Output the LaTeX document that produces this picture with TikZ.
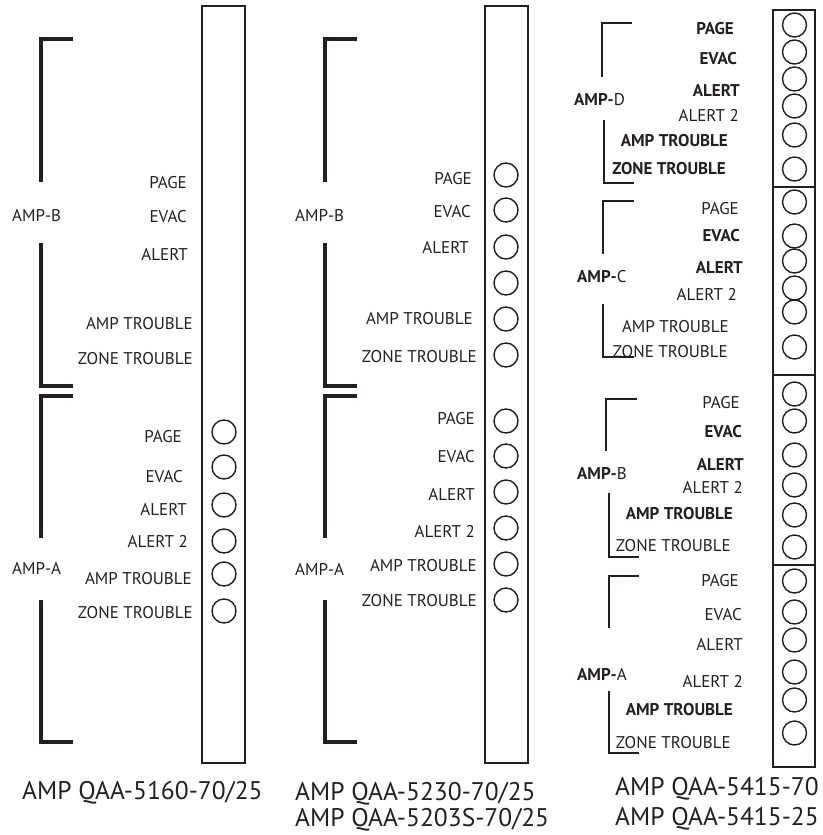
\documentclass[tikz,border=0pt]{standalone}
\usepackage{fontspec}
\setmainfont{PT Sans}
\definecolor{ink}{RGB}{35,31,32}
\begin{document}
\begin{tikzpicture}[x=1pt,y=-1pt,
  lbl/.style={inner sep=0pt, anchor=east, font=\fontsize{17}{17}\selectfont, text=ink},
  lblb/.style={inner sep=0pt, anchor=east, font=\fontsize{17}{17}\selectfont\bfseries, text=ink},
  amp/.style={inner sep=0pt, anchor=west, font=\fontsize{17}{17}\selectfont, text=ink},
  led/.style={circle, draw=ink, line width=1.4pt, minimum size=24pt, inner sep=0pt},
  thickbr/.style={draw=ink, line width=4pt, line join=miter},
  thinbr/.style={draw=ink, line width=2.4pt, line join=miter},
  panel/.style={draw=ink, line width=1.6pt},
  capt/.style={inner sep=0pt, anchor=base west, font=\fontsize{25.5}{25.5}\selectfont, text=ink}
]
\useasboundingbox (0,0) rectangle (822,835);

% ================= LEFT PANEL: QAA-5160 =================
\draw[panel] (202,6) rectangle (245,763);
\draw[thickbr] (73,39) -| (41,182);
\draw[thickbr] (41,243) |- (73,386);
\draw[thickbr] (73,396) -| (41,538);
\draw[thickbr] (41,600) |- (73,742);
\node[amp] (L-ampB) at (12,216) {AMP-B};
\node[amp] (L-ampA) at (12,568) {AMP-A};
\node[lbl] (L-b1) at (187,183) {PAGE};
\node[lbl] (L-b2) at (187,217) {EVAC};
\node[lbl] (L-b3) at (188,254) {ALERT};
\node[lbl] (L-b5) at (193,324) {AMP TROUBLE};
\node[lbl] (L-b6) at (193,359) {ZONE TROUBLE};
\node[lbl] (L-a1) at (182,437) {PAGE};
\node[lbl] (L-a2) at (183,477) {EVAC};
\node[lbl] (L-a3) at (187,509) {ALERT};
\node[lbl] (L-a4) at (188,541) {ALERT 2};
\node[lbl] (L-a5) at (192,579) {AMP TROUBLE};
\node[lbl] (L-a6) at (193,613) {ZONE TROUBLE};
\foreach \y [count=\i] in {432,467,505,541,574,611}
  \node[led] (L-led\i) at (224,\y) {};
\node[capt] (L-cap) at (22,799) {AMP QAA-5160-70/25};

% ================= MIDDLE PANEL: QAA-5230 =================
\draw[panel] (485,6) rectangle (528,763);
\draw[thickbr] (357,39) -| (325,182);
\draw[thickbr] (325,243) |- (357,386);
\draw[thickbr] (357,396) -| (325,538);
\draw[thickbr] (325,600) |- (357,742);
\node[amp] (M-ampB) at (295,216) {AMP-B};
\node[amp] (M-ampA) at (295,569) {AMP-A};
\node[lbl] (M-b1) at (472,179) {PAGE};
\node[lbl] (M-b2) at (471,212) {EVAC};
\node[lbl] (M-b3) at (469,247) {ALERT};
\node[lbl] (M-b5) at (473,319) {AMP TROUBLE};
\node[lbl] (M-b6) at (477,357) {ZONE TROUBLE};
\node[lbl] (M-a1) at (475,419) {PAGE};
\node[lbl] (M-a2) at (475,457) {EVAC};
\node[lbl] (M-a3) at (475,494) {ALERT};
\node[lbl] (M-a4) at (475,531) {ALERT 2};
\node[lbl] (M-a5) at (477,566) {AMP TROUBLE};
\node[lbl] (M-a6) at (477,601) {ZONE TROUBLE};
\foreach \y [count=\i] in {175,210,247,283,319,355}
  \node[led] (M-ledB\i) at (506,\y) {};
\foreach \y [count=\i] in {421,456,492,528,564,600}
  \node[led] (M-ledA\i) at (506,\y) {};
\node[capt] (M-cap1) at (295,800) {AMP QAA-5230-70/25};
\node[capt] (M-cap2) at (295,826) {AMP QAA-5203S-70/25};

% ================= RIGHT PANEL: QAA-5415 =================
\draw[panel] (773,10) rectangle (815,767);
\draw[panel] (773,187) -- (815,187);
\draw[panel] (773,375) -- (815,375);
\draw[panel] (773,565) -- (815,565);
% brackets
\draw[thinbr] (632,23) -| (602,77);
\draw[thinbr] (604,120) |- (634,183);
\draw[thinbr] (634,201) -| (603,254);
\draw[thinbr] (603,304) |- (634,357);
\draw[thinbr] (637,399) -| (606,451);
\draw[thinbr] (609,493) |- (639,557);
\draw[thinbr] (639,576) -| (609,628);
\draw[thinbr] (609,691) |- (639,753);
% amp labels
\node[amp] (R-ampD) at (574,100) {{\bfseries AMP-}D};
\node[amp] (R-ampC) at (577,277) {{\bfseries AMP-}C};
\node[amp] (R-ampB) at (577,474) {{\bfseries AMP-}B};
\node[amp] (R-ampA) at (577,674) {{\bfseries AMP-}A};
% AMP-D
\node[lblb] (R-d1) at (734,29) {PAGE};
\node[lblb] (R-d2) at (737,59) {EVAC};
\node[lblb] (R-d3) at (740,90) {ALERT};
\node[lbl]  (R-d4) at (739,115) {ALERT 2};
\node[lblb] (R-d5) at (728,141) {AMP TROUBLE};
\node[lblb] (R-d6) at (726,169) {ZONE TROUBLE};
% AMP-C
\node[lbl]  (R-c1) at (739,209) {PAGE};
\node[lblb] (R-c2) at (740,236) {EVAC};
\node[lblb] (R-c3) at (743,267) {ALERT};
\node[lbl]  (R-c4) at (737,294) {ALERT 2};
\node[lbl]  (R-c5) at (729,327) {AMP TROUBLE};
\node[lbl]  (R-c6) at (728,352) {ZONE TROUBLE};
% AMP-B
\node[lbl]  (R-b1) at (740,403) {PAGE};
\node[lblb] (R-b2) at (742,432) {EVAC};
\node[lblb] (R-b3) at (744,464) {ALERT};
\node[lbl]  (R-b4) at (743,487) {ALERT 2};
\node[lblb] (R-b5) at (733,514) {AMP TROUBLE};
\node[lbl]  (R-b6) at (731,546) {ZONE TROUBLE};
% AMP-A
\node[lbl]  (R-a1) at (739,581) {PAGE};
\node[lbl]  (R-a2) at (742,615) {EVAC};
\node[lbl]  (R-a3) at (743,644) {ALERT};
\node[lbl]  (R-a4) at (743,681) {ALERT 2};
\node[lblb] (R-a5) at (733,710) {AMP TROUBLE};
\node[lbl]  (R-a6) at (731,743) {ZONE TROUBLE};
% LEDs
\foreach \y [count=\i] in {25,52,79,106,135,169}
  \node[led] (R-ledD\i) at (794.5,\y) {};
\foreach \y [count=\i] in {202,236,261,288,312,347}
  \node[led] (R-ledC\i) at (794.5,\y) {};
\foreach \y [count=\i] in {394,421,455,485,515,547}
  \node[led] (R-ledB\i) at (794.5,\y) {};
\foreach \y [count=\i] in {581,612,640,672,700,733}
  \node[led] (R-ledA\i) at (794.5,\y) {};
\node[capt] (R-cap1) at (615,795) {AMP QAA-5415-70};
\node[capt] (R-cap2) at (615,825) {AMP QAA-5415-25};
\end{tikzpicture}
\end{document}
